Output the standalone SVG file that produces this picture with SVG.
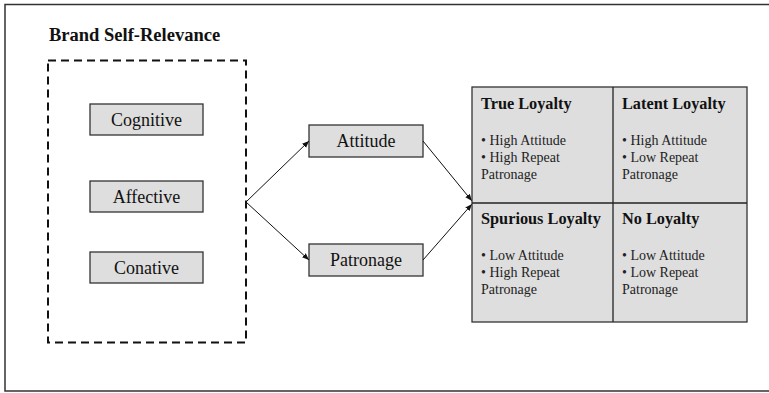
<svg xmlns="http://www.w3.org/2000/svg" width="769" height="393" viewBox="0 0 769 393">
<defs>
<style>
.box{fill:#dedede;stroke:#333;stroke-width:1.3}
.lbl{font-family:"Liberation Serif",serif;font-size:18px;fill:#111;text-anchor:middle}
.ttl{font-family:"Liberation Serif",serif;font-size:16.3px;font-weight:bold;fill:#111}
.txt{font-family:"Liberation Serif",serif;font-size:14px;fill:#222}
.conn{stroke:#111;stroke-width:1;fill:none}
</style>
<marker id="ah" viewBox="0 0 10 10" refX="10" refY="5" markerWidth="7" markerHeight="7" orient="auto" markerUnits="userSpaceOnUse">
<path d="M0,1 L10,5 L0,9 z" fill="#111"/>
</marker>
</defs>
<rect width="769" height="393" fill="#fff"/>
<path d="M775,4.5 H5 V391 H775" fill="none" stroke="#333" stroke-width="1.5"/>
<g id="brand">
<text x="49" y="41" font-family="Liberation Serif,serif" font-size="18.5" font-weight="bold" fill="#111">Brand Self-Relevance</text>
<rect x="48" y="60.5" width="198" height="282" fill="none" stroke="#111" stroke-width="2" stroke-dasharray="8,5"/>
</g>
<g id="cognitive"><rect class="box" x="90" y="104" width="113" height="31"/><text class="lbl" x="146.5" y="126">Cognitive</text></g>
<g id="affective"><rect class="box" x="90" y="181" width="113" height="31"/><text class="lbl" x="146.5" y="203">Affective</text></g>
<g id="conative"><rect class="box" x="90" y="252" width="113" height="31"/><text class="lbl" x="146.5" y="274">Conative</text></g>
<g id="attitude"><rect class="box" x="309" y="125" width="114" height="32"/><text class="lbl" x="366" y="147">Attitude</text></g>
<g id="patronage"><rect class="box" x="309" y="244" width="114" height="32"/><text class="lbl" x="366" y="266">Patronage</text></g>
<g id="connectors">
<line class="conn" x1="246" y1="202" x2="309" y2="141" marker-end="url(#ah)"/>
<line class="conn" x1="246" y1="202" x2="309" y2="260" marker-end="url(#ah)"/>
<line class="conn" x1="423" y1="141" x2="472" y2="201" marker-end="url(#ah)"/>
<line class="conn" x1="423" y1="260" x2="472" y2="204" marker-end="url(#ah)"/>
</g>
<g id="grid">
<rect class="box" x="472" y="87" width="275" height="235"/>
<line x1="613" y1="87" x2="613" y2="322" stroke="#222" stroke-width="1.3"/>
<line x1="472" y1="203" x2="747" y2="203" stroke="#222" stroke-width="1.3"/>
</g>
<g id="true-loyalty">
<text class="ttl" x="481" y="109">True Loyalty</text>
<text class="txt" x="481" y="145">• High Attitude</text>
<text class="txt" x="481" y="162">• High Repeat</text>
<text class="txt" x="481" y="179">Patronage</text>
</g>
<g id="latent-loyalty">
<text class="ttl" x="622" y="109">Latent Loyalty</text>
<text class="txt" x="622" y="145">• High Attitude</text>
<text class="txt" x="622" y="162">• Low Repeat</text>
<text class="txt" x="622" y="179">Patronage</text>
</g>
<g id="spurious-loyalty">
<text class="ttl" x="481" y="224">Spurious Loyalty</text>
<text class="txt" x="481" y="260">• Low Attitude</text>
<text class="txt" x="481" y="277">• High Repeat</text>
<text class="txt" x="481" y="294">Patronage</text>
</g>
<g id="no-loyalty">
<text class="ttl" x="622" y="224">No Loyalty</text>
<text class="txt" x="622" y="260">• Low Attitude</text>
<text class="txt" x="622" y="277">• Low Repeat</text>
<text class="txt" x="622" y="294">Patronage</text>
</g>
</svg>
